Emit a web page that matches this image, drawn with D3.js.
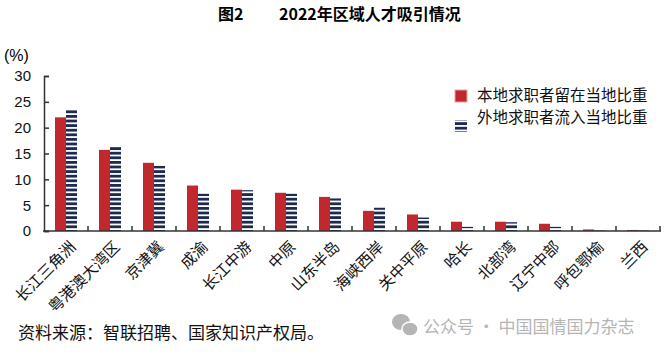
<!DOCTYPE html>
<html>
<head>
<meta charset="utf-8">
<script src="https://cdn.jsdelivr.net/npm/d3@7"></script>
<style>
  body { margin: 0; background: #fff; }
  text { font-family: "Liberation Sans", Arial, "Noto Sans CJK SC", sans-serif; }
  .cjk { font-family: "Noto Sans CJK SC", sans-serif; }
</style>
</head>
<body>
<div id="chart"></div>
<script>
const regions = ["长江三角洲", "粤港澳大湾区", "京津冀", "成渝", "长江中游", "中原", "山东半岛",
  "海峡西岸", "关中平原", "哈长", "北部湾", "辽宁中部", "呼包鄂榆", "兰西"];
const localStay = [22.0, 15.7, 13.2, 8.8, 8.0, 7.4, 6.6, 3.9, 3.2, 1.8, 1.8, 1.4, 0.3, 0.2];
const outsideIn = [23.5, 16.3, 12.6, 7.2, 7.9, 7.2, 6.3, 4.5, 2.6, 0.8, 1.7, 0.8, 0.1, 0.1];
const yTicks = [0, 5, 10, 15, 20, 25, 30];
const seriesNames = ["本地求职者留在当地比重", "外地求职者流入当地比重"];

const W = 671, H = 353;
const red = "#c0282d", navy = "#1e2a50", axisColor = "#333";

const svg = d3.select("#chart").append("svg")
  .attr("width", W).attr("height", H);

// striped fill for the second series
const defs = svg.append("defs");
const pat = defs.append("pattern")
  .attr("id", "stripes")
  .attr("patternUnits", "userSpaceOnUse")
  .attr("width", 20).attr("height", 4.6);
pat.append("rect").attr("width", 20).attr("height", 4.6).attr("fill", "#fff");
pat.append("rect").attr("width", 20).attr("height", 2.8).attr("fill", navy);

const x = d3.scaleBand().domain(regions).range([44, 660]).padding(0);
const y = d3.scaleLinear().domain([0, 30]).range([231, 76]);
const barW = 11;

// title
svg.append("text").attr("class", "cjk")
  .attr("x", 218).attr("y", 20)
  .style("font-size", "16px").style("font-weight", "bold")
  .text("图2");
svg.append("text").attr("class", "cjk")
  .attr("x", 279).attr("y", 20)
  .style("font-size", "16px").style("font-weight", "bold")
  .text("2022年区域人才吸引情况");

svg.append("text")
  .attr("x", 4).attr("y", 61)
  .style("font-size", "16px")
  .text("(%)");

// bars
const groups = svg.selectAll(".grp")
  .data(regions)
  .join("g")
  .attr("class", "grp")
  .attr("transform", d => `translate(${x(d) + x.bandwidth() / 2},0)`);

groups.append("rect")
  .attr("x", -barW)
  .attr("y", (d, i) => y(localStay[i]))
  .attr("width", barW)
  .attr("height", (d, i) => y(0) - y(localStay[i]))
  .attr("fill", red);

groups.append("rect")
  .attr("x", 0)
  .attr("y", (d, i) => y(outsideIn[i]))
  .attr("width", barW)
  .attr("height", (d, i) => y(0) - y(outsideIn[i]))
  .attr("fill", "url(#stripes)");

// y axis
const yAxis = svg.append("g")
  .attr("transform", "translate(44,0)")
  .call(d3.axisRight(y).tickValues(yTicks).tickSize(5).tickFormat(""));
yAxis.select(".domain").attr("stroke", axisColor).attr("stroke-width", 1.5);
yAxis.selectAll(".tick line").attr("stroke", axisColor).attr("stroke-width", 1.5);

svg.selectAll(".ylab")
  .data(yTicks)
  .join("text")
  .attr("class", "ylab")
  .attr("x", 31).attr("y", d => y(d))
  .attr("dy", "0.36em")
  .attr("text-anchor", "end")
  .style("font-size", "15px")
  .attr("fill", "#111")
  .text(d => d);

// x axis with ticks at band boundaries
const bounds = regions.map(d => x(d)).concat([x.range()[1]]);
svg.append("line")
  .attr("x1", 43).attr("x2", 661)
  .attr("y1", y(0)).attr("y2", y(0))
  .attr("stroke", axisColor).attr("stroke-width", 1.5);
svg.selectAll(".xtick")
  .data(bounds.slice(1))
  .join("line")
  .attr("class", "xtick")
  .attr("x1", d => d).attr("x2", d => d)
  .attr("y1", y(0)).attr("y2", y(0) - 5)
  .attr("stroke", axisColor).attr("stroke-width", 1.5);

svg.selectAll(".xlab")
  .data(regions)
  .join("text")
  .attr("class", "xlab cjk")
  .attr("text-anchor", "end")
  .attr("transform", d => `translate(${x(d) + x.bandwidth() / 2 + 7},${y(0) + 13}) rotate(-45)`)
  .attr("dy", "0.35em")
  .style("font-size", "15.5px")
  .attr("fill", "#111")
  .text(d => d);

// legend
const lg = svg.append("g").attr("transform", "translate(455,90)");
lg.append("rect").attr("width", 12).attr("height", 12).attr("fill", red)
  .attr("stroke", "#e8a0a2").attr("stroke-width", 1);
lg.append("text").attr("class", "cjk")
  .attr("x", 22).attr("y", 6).attr("dy", "0.35em")
  .style("font-size", "15.5px").attr("fill", "#111")
  .text(seriesNames[0]);
lg.append("rect").attr("y", 30).attr("width", 12).attr("height", 12)
  .attr("fill", "url(#stripes)");
lg.append("text").attr("class", "cjk")
  .attr("x", 22).attr("y", 28).attr("dy", "0.35em")
  .style("font-size", "15.5px").attr("fill", "#111")
  .text(seriesNames[1]);

// source note
svg.append("text").attr("class", "cjk")
  .attr("x", 18).attr("y", 339)
  .style("font-size", "17px").attr("fill", "#111")
  .text("资料来源：智联招聘、国家知识产权局。");

// watermark
const wm = svg.append("g").attr("fill", "#b5b5b5");
wm.append("ellipse").attr("cx", 401).attr("cy", 322).attr("rx", 9).attr("ry", 8);
wm.append("ellipse").attr("cx", 410).attr("cy", 329).attr("rx", 8).attr("ry", 7)
  .attr("stroke", "#fff").attr("stroke-width", 1.5);
wm.append("text").attr("class", "cjk")
  .attr("x", 423).attr("y", 333)
  .style("font-size", "17px")
  .text("公众号 · 中国国情国力杂志");
</script>
</body>
</html>
